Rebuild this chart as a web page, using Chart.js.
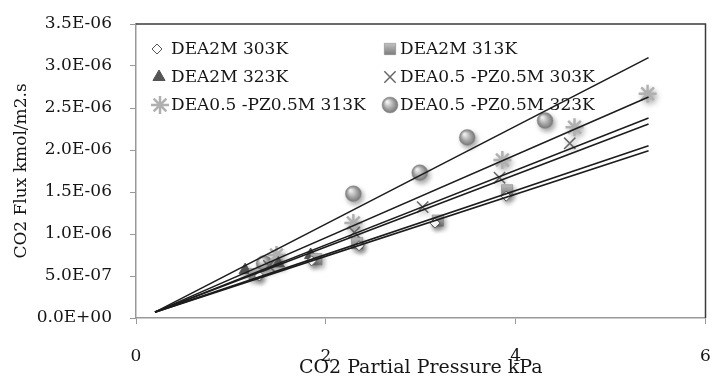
<!DOCTYPE html>
<html><head><meta charset="utf-8">
<script src="https://cdn.jsdelivr.net/npm/chart.js@4.4.1/dist/chart.umd.min.js"></script>
<style>html,body{margin:0;padding:0;background:#fff}#wrap{width:717px;height:380px}</style>
</head><body><div id="wrap"><canvas id="c" width="717" height="380"></canvas></div>
<script>
// ---- data ----
const seriesLabels = ['DEA2M 303K','DEA2M 313K','DEA2M 323K','DEA0.5 -PZ0.5M 303K','DEA0.5 -PZ0.5M 313K','DEA0.5 -PZ0.5M 323K'];
const dea2m303X = [1.30, 1.85, 2.35, 3.15, 3.90];
const dea2m303Y = [0.50e-6, 0.68e-6, 0.86e-6, 1.13e-6, 1.45e-6];
const dea2m313X = [1.25, 1.90, 2.33, 3.18, 3.91];
const dea2m313Y = [0.52e-6, 0.70e-6, 0.89e-6, 1.16e-6, 1.52e-6];
const dea2m323X = [1.15, 1.50, 1.84];
const dea2m323Y = [0.57e-6, 0.65e-6, 0.75e-6];
const pz303X = [1.40, 2.30, 3.02, 3.83, 4.57];
const pz303Y = [0.62e-6, 1.02e-6, 1.32e-6, 1.67e-6, 2.08e-6];
const pz313X = [1.48, 2.29, 3.86, 4.62, 5.39];
const pz313Y = [0.75e-6, 1.13e-6, 1.88e-6, 2.27e-6, 2.67e-6];
const pz323X = [1.35, 2.29, 2.99, 3.49, 4.31];
const pz323Y = [0.65e-6, 1.48e-6, 1.73e-6, 2.15e-6, 2.35e-6];
// trend lines: start and end points
const trendStartX = 0.2, trendEndX = 5.4;
const trendStartY = 0.07e-6;
const trendEndY = [3.10e-6, 2.63e-6, 2.38e-6, 2.31e-6, 2.05e-6, 1.99e-6];
const yTickLabels = ['0.0E+00','5.0E-07','1.0E-06','1.5E-06','2.0E-06','2.5E-06','3.0E-06','3.5E-06'];
const xTickLabels = ['0','2','4','6'];
const xTitle = 'CO2 Partial Pressure kPa';
const yTitle = 'CO2 Flux kmol/m2.s';

// ---- helpers ----
const FONT = 'DejaVu Serif';
const TXT = '#151515';
function pts(xs, ys){ return xs.map((x,i)=>({x:x, y:ys[i]})); }
function sphereFill(ctx, x, y, r){
  const g = ctx.createRadialGradient(x - r*0.35, y - r*0.4, r*0.1, x, y, r);
  g.addColorStop(0,'#f2f2f2'); g.addColorStop(0.55,'#a9a9a9'); g.addColorStop(1,'#777');
  return g;
}
function squareFill(ctx, x, y, r){
  const g = ctx.createLinearGradient(x, y - r, x, y + r);
  g.addColorStop(0,'#cfcfcf'); g.addColorStop(1,'#6e6e6e');
  return g;
}
function scripted(fn, r, fallback){
  return (c) => {
    if (c.type !== 'data' || !c.parsed) return fallback;
    const ch = c.chart;
    if (!ch.scales || !ch.scales.x || !ch.scales.y) return fallback;
    const x = ch.scales.x.getPixelForValue(c.parsed.x);
    const y = ch.scales.y.getPixelForValue(c.parsed.y);
    if (!isFinite(x) || !isFinite(y)) return fallback;
    return fn(ch.ctx, x, y, r);
  };
}
const styles = [
  {pointStyle:'rectRot', radius:5, bg:'#fff', border:'#555', bw:1},
  {pointStyle:'rect', radius:8, bg:scripted(squareFill,8,'#999'), border:'#777', bw:0.5, legendFill:squareFill},
  {pointStyle:'triangle', radius:7, bg:'#555', border:'#555', bw:1},
  {pointStyle:'crossRot', radius:8, bg:'#666', border:'#666', bw:1.5},
  {pointStyle:'star', radius:9, bg:'#aaa', border:'#b0b0b0', bw:2.5},
  {pointStyle:'circle', radius:8, bg:scripted(sphereFill,8,'#aaa'), border:'#999', bw:0.5, legendFill:sphereFill}
];
const seriesData = [pts(dea2m303X,dea2m303Y), pts(dea2m313X,dea2m313Y), pts(dea2m323X,dea2m323Y),
                    pts(pz303X,pz303Y), pts(pz313X,pz313Y), pts(pz323X,pz323Y)];

const datasets = [];
trendEndY.forEach((ey, i) => {
  datasets.push({label:'trend'+i, type:'line', data:[{x:trendStartX,y:trendStartY},{x:trendEndX,y:ey}],
    borderColor:'#1c1c1c', borderWidth:1.6, pointRadius:0, showLine:true, fill:false, order:0, isTrend:true});
});
seriesLabels.forEach((lab, i) => {
  const s = styles[i];
  datasets.push({label:lab, data:seriesData[i], showLine:false, pointStyle:s.pointStyle, pointRadius:s.radius,
    pointBackgroundColor:s.bg, pointBorderColor:s.border, pointBorderWidth:s.bw, order:1});
});

const frame = {
  id:'frame',
  beforeDatasetsDraw(chart){
    const a = chart.chartArea, ctx = chart.ctx;
    ctx.save(); ctx.strokeStyle = '#3a3a3a'; ctx.lineWidth = 1.5;
    ctx.beginPath(); ctx.moveTo(a.left, a.top); ctx.lineTo(a.right, a.top); ctx.lineTo(a.right, a.bottom); ctx.stroke();
    ctx.restore();
  },
  beforeDatasetDraw(chart, args){
    if (chart.data.datasets[args.index].isTrend) return;
    const ctx = chart.ctx; ctx.save();
    ctx.shadowColor = 'rgba(0,0,0,0.35)'; ctx.shadowBlur = 5; ctx.shadowOffsetX = 2; ctx.shadowOffsetY = 3;
  },
  afterDatasetDraw(chart, args){
    if (chart.data.datasets[args.index].isTrend) return;
    chart.ctx.restore();
  },
  afterDraw(chart){
    const ctx = chart.ctx;
    const pos = [[157,49],[390,49],[159,77],[390,77],[160,105],[390,105]];
    const textX = [171,400];
    ctx.save();
    ctx.font = '17px "' + FONT + '"';
    ctx.textBaseline = 'middle'; ctx.textAlign = 'left';
    seriesLabels.forEach((lab, i) => {
      const s = styles[i]; const [px, py] = pos[i];
      ctx.save();
      ctx.lineWidth = s.bw;
      ctx.strokeStyle = s.border;
      ctx.fillStyle = s.legendFill ? s.legendFill(ctx, px, py, s.radius) : s.bg;
      Chart.helpers.drawPoint(ctx, {pointStyle:s.pointStyle, radius:s.radius, rotation:0, borderWidth:s.bw}, px, py);
      ctx.restore();
      ctx.fillStyle = TXT;
      ctx.fillText(lab, textX[i % 2], py + 1);
    });
    ctx.restore();
  }
};

new Chart(document.getElementById('c'), {
  type:'scatter',
  data:{datasets:datasets},
  options:{
    responsive:false, animation:false,
    layout:{padding:{left:0, top:24, right:6, bottom:0}},
    plugins:{legend:{display:false}, tooltip:{enabled:false}},
    scales:{
      x:{type:'linear', min:0, max:6,
        afterFit(s){ s.height = 62; s.paddingLeft = 0; s.paddingRight = 0; },
        ticks:{stepSize:2, padding:22, color:TXT, font:{family:FONT, size:17},
          callback:(v,i)=>xTickLabels[i]},
        grid:{drawOnChartArea:false, drawTicks:true, tickLength:6, color:'#999'},
        border:{display:true, color:'#999', width:1.5},
        title:{display:true, text:xTitle, color:TXT, font:{family:FONT, size:19, lineHeight:1.2}, padding:{top:0,bottom:1}}
      },
      y:{type:'linear', min:0, max:3.5e-6,
        afterFit(s){ s.width = 136; s.paddingTop = 0; s.paddingBottom = 0; },
        ticks:{stepSize:0.5e-6, padding:18, color:TXT, font:{family:FONT, size:17},
          callback:(v,i)=>yTickLabels[i]},
        grid:{drawOnChartArea:false, drawTicks:true, tickLength:6, color:'#999'},
        border:{display:true, color:'#999', width:1.5},
        title:{display:true, text:yTitle, color:TXT, font:{family:FONT, size:17, lineHeight:1.2}, padding:{top:11,bottom:0}}
      }
    }
  },
  plugins:[frame]
});
</script></body></html>
